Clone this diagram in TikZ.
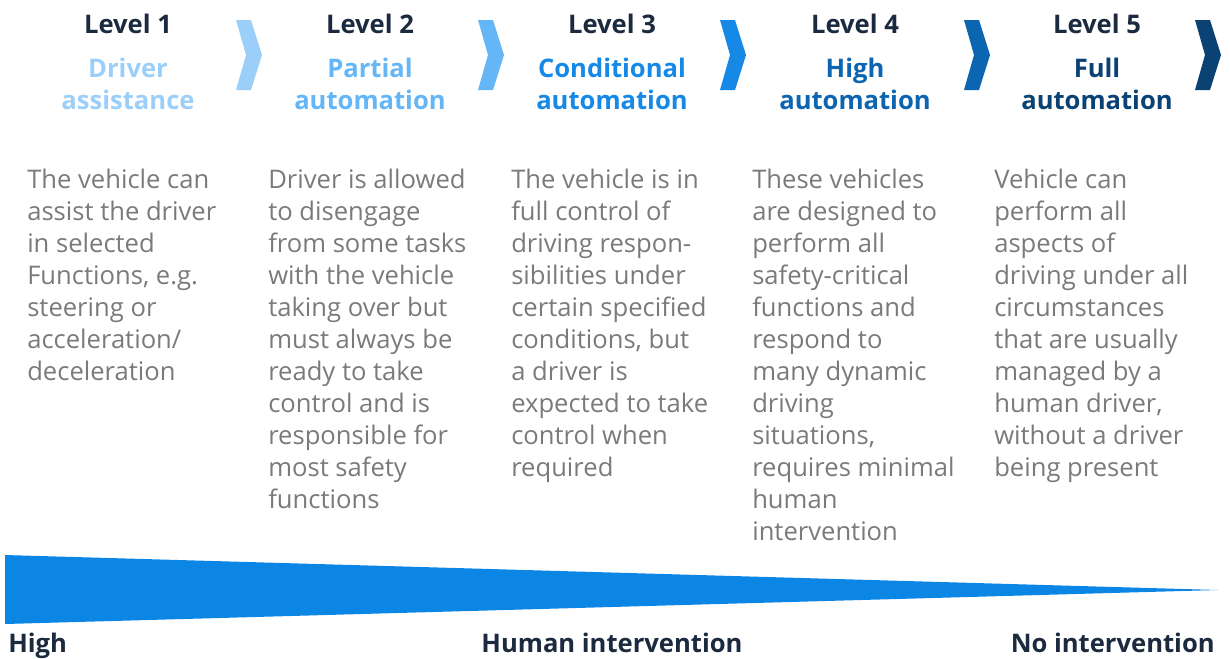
\documentclass[tikz,border=0pt]{standalone}
\usepackage{fontspec}
\setmainfont{Open Sans}
\definecolor{lvlone}{HTML}{9BCFFA}
\definecolor{lvltwo}{HTML}{64B6F7}
\definecolor{lvlthree}{HTML}{1689E6}
\definecolor{lvlfour}{HTML}{0C65B0}
\definecolor{lvlfive}{HTML}{0A4274}
\definecolor{wedgeblue}{HTML}{0C86E4}
\definecolor{navy}{HTML}{1B2A3E}
\definecolor{bodygray}{HTML}{7A7A7A}
\tikzset{
  level/.style={inner sep=0pt, anchor=base, text=navy, font=\fontsize{19.2}{24}\selectfont\bfseries},
  kind/.style={inner sep=0pt, anchor=base, align=center, font=\fontsize{19.2}{24}\selectfont\bfseries},
  desc/.style={inner sep=0pt, anchor=base west, align=left, text=bodygray, font=\fontsize{19.2}{24}\selectfont},
  extent/.style={inner sep=0pt, anchor=base, text=navy, font=\fontsize{19.2}{24}\selectfont\bfseries},
}
\begin{document}
\begin{tikzpicture}[x=0.75pt, y=-0.75pt]
\useasboundingbox (0,0) rectangle (1230,658);
% headings (multi-line nodes sit on their last baseline)
\node[level] (lvl1) at (128,33){Level 1};
\node[kind, text=lvlone] (kind1) at (128,109){Driver\\assistance};
\node[level] (lvl2) at (370,33){Level 2};
\node[kind, text=lvltwo] (kind2) at (370,109){Partial\\automation};
\node[level] (lvl3) at (612,33){Level 3};
\node[kind, text=lvlthree] (kind3) at (612,109){Conditional\\automation};
\node[level] (lvl4) at (855,33){Level 4};
\node[kind, text=lvlfour] (kind4) at (855,109){High\\automation};
\node[level] (lvl5) at (1097,33){Level 5};
\node[kind, text=lvlfive] (kind5) at (1097,109){Full\\automation};
% chevrons
\fill[lvlone] (236,20) -- (251,20) -- (262,55) -- (251,90) -- (236,90) -- (246,55) -- cycle;
\fill[lvltwo] (478,20) -- (493,20) -- (504,55) -- (493,90) -- (478,90) -- (488,55) -- cycle;
\fill[lvlthree] (720,20) -- (735,20) -- (746,55) -- (735,90) -- (720,90) -- (730,55) -- cycle;
\fill[lvlfour] (964,20) -- (979,20) -- (990,55) -- (979,90) -- (964,90) -- (974,55) -- cycle;
\fill[lvlfive] (1195,20) -- (1210,20) -- (1221,55) -- (1210,90) -- (1195,90) -- (1205,55) -- cycle;
% descriptions
\node[desc] (desc1) at (27,380){The vehicle can\\assist the driver\\in selected\\Functions, e.g.\\steering or\\acceleration/\\deceleration};
\node[desc] (desc2) at (268,508){Driver is allowed\\to disengage\\from some tasks\\with the vehicle\\taking over but\\must always be\\ready to take\\control and is\\responsible for\\most safety\\functions};
\node[desc] (desc3) at (511,476){The vehicle is in\\full control of\\driving respon-\\sibilities under\\certain specified\\conditions, but\\a driver is\\expected to take\\control when\\required};
\node[desc] (desc4) at (752,540){These vehicles\\are designed to\\perform all\\safety-critical\\functions and\\respond to\\many dynamic\\driving\\situations,\\requires minimal\\human\\intervention};
\node[desc] (desc5) at (994,476){Vehicle can\\perform all\\aspects of\\driving under all\\circumstances\\that are usually\\managed by a\\human driver,\\without a driver\\being present};
% intervention wedge
\fill[wedgeblue] (5,555) -- (1218,590) -- (5,624) -- cycle;
\node[extent, anchor=base west] (high) at (8,652){High};
\node[extent] (human) at (612,652){Human intervention};
\node[extent, anchor=base east] (none) at (1215,652){No intervention};
\end{tikzpicture}
\end{document}
